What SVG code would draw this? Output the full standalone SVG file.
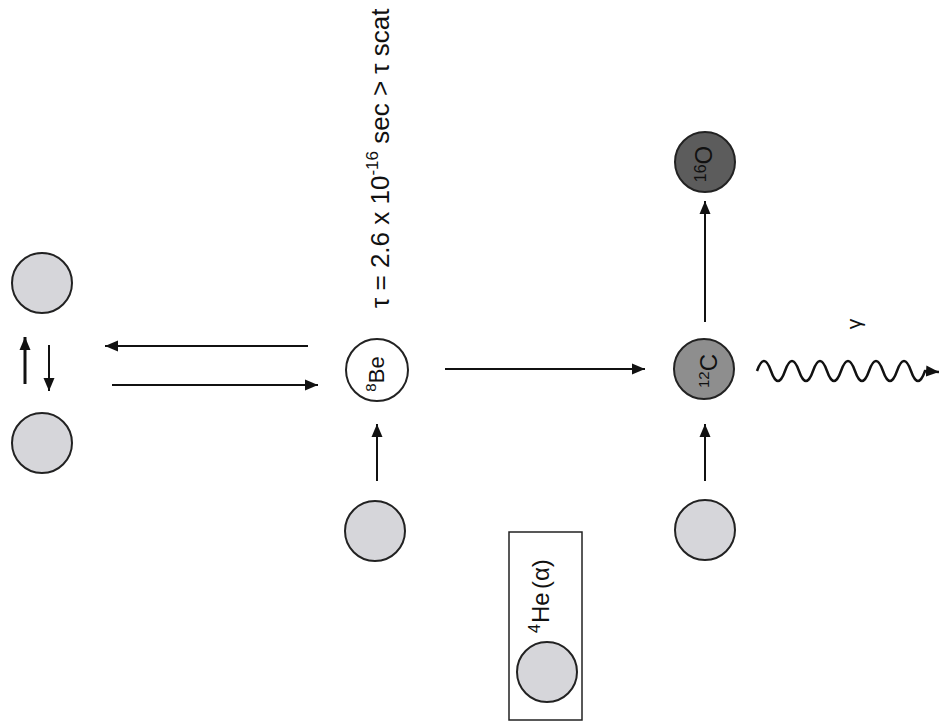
<svg xmlns="http://www.w3.org/2000/svg" width="939" height="724" viewBox="0 0 939 724">
  <defs>
    <marker id="head" markerUnits="userSpaceOnUse" markerWidth="14" markerHeight="12" refX="13" refY="6" orient="auto">
      <path d="M0,0.5 L13,6 L0,11.5 z" fill="#111"/>
    </marker>
    <style>
      .nuc { stroke: #222; stroke-width: 2; }
      .alpha { fill: #d6d6da; }
      .be { fill: #ffffff; }
      .c12 { fill: #8e8e8e; }
      .o16 { fill: #5c5c5c; }
      .lbl { font-family: "Liberation Sans", Arial, sans-serif; fill: #111; }
      .arrow { stroke: #111; stroke-width: 2; fill: none; marker-end: url(#head); }
    </style>
  </defs>
  <rect width="939" height="724" fill="#ffffff"/>

  <!-- connectors -->
  <g id="connectors">
    <line class="arrow" x1="25" y1="384" x2="25" y2="337" style="stroke-width:3"/>
    <line class="arrow" x1="49" y1="345" x2="49" y2="391"/>
    <line class="arrow" x1="308" y1="346" x2="105" y2="346"/>
    <line class="arrow" x1="112" y1="385" x2="318" y2="385"/>
    <line class="arrow" x1="445" y1="369" x2="645" y2="369"/>
    <line class="arrow" x1="377" y1="481" x2="377" y2="424"/>
    <line class="arrow" x1="705" y1="481" x2="705" y2="424"/>
    <line class="arrow" x1="705" y1="322" x2="705" y2="201"/>
    <!-- emitted photon -->
    <path class="arrow" style="stroke-width:2.5" d="M757,371 q7,-20 14,0 q7,20 14,0 q7,-20 14,0 q7,20 14,0 q7,-20 14,0 q7,20 14,0 q7,-20 14,0 q7,20 14,0 q7,-20 14,0 q7,20 14,0 q7,-20 14,0 q7,20 14,0 L939,372"/>
  </g>

  <!-- alpha pair on the left -->
  <g id="alpha-top"><circle class="nuc alpha" cx="42" cy="283" r="30"/></g>
  <g id="alpha-bottom"><circle class="nuc alpha" cx="42" cy="443" r="30"/></g>

  <!-- beryllium-8 -->
  <g id="be8">
    <circle class="nuc be" cx="377" cy="370" r="31"/>
    <text class="lbl" transform="translate(384,374) rotate(-90)" text-anchor="middle" font-size="22"><tspan font-size="15" dy="-8">8</tspan><tspan dy="8">Be</tspan></text>
  </g>

  <!-- lifetime note -->
  <g id="lifetime">
    <text class="lbl" transform="translate(389,308) rotate(-90)" font-size="26">τ = 2.6 x 10<tspan font-size="17" dy="-11">-16</tspan><tspan dy="11"> sec &gt; τ scat</tspan></text>
  </g>

  <g id="alpha-be"><circle class="nuc alpha" cx="375" cy="531" r="30"/></g>
  <g id="alpha-c"><circle class="nuc alpha" cx="705" cy="530" r="30"/></g>

  <!-- carbon-12 -->
  <g id="c12">
    <circle class="nuc c12" cx="704" cy="369" r="30"/>
    <text class="lbl" transform="translate(717,371) rotate(-90)" text-anchor="middle" font-size="24"><tspan font-size="15" dy="-8">12</tspan><tspan dy="8">C</tspan></text>
  </g>

  <!-- oxygen-16 -->
  <g id="o16">
    <circle class="nuc o16" cx="705" cy="162" r="30"/>
    <text class="lbl" transform="translate(712,164) rotate(-90)" text-anchor="middle" font-size="24"><tspan font-size="16" dy="-6">16</tspan><tspan dy="6">O</tspan></text>
  </g>

  <g id="gamma">
    <text class="lbl" transform="translate(861,324) rotate(-90)" text-anchor="middle" font-size="21">γ</text>
  </g>

  <!-- legend -->
  <g id="legend">
    <rect x="509" y="532" width="73" height="188" fill="none" stroke="#222" stroke-width="1.5"/>
    <circle class="nuc alpha" cx="547" cy="672" r="30"/>
    <text class="lbl" transform="translate(549,633) rotate(-90)" font-size="24"><tspan x="0" y="-9" font-size="16">4</tspan><tspan x="10" y="0">He</tspan><tspan x="44" y="0">(α)</tspan></text>
  </g>
</svg>
